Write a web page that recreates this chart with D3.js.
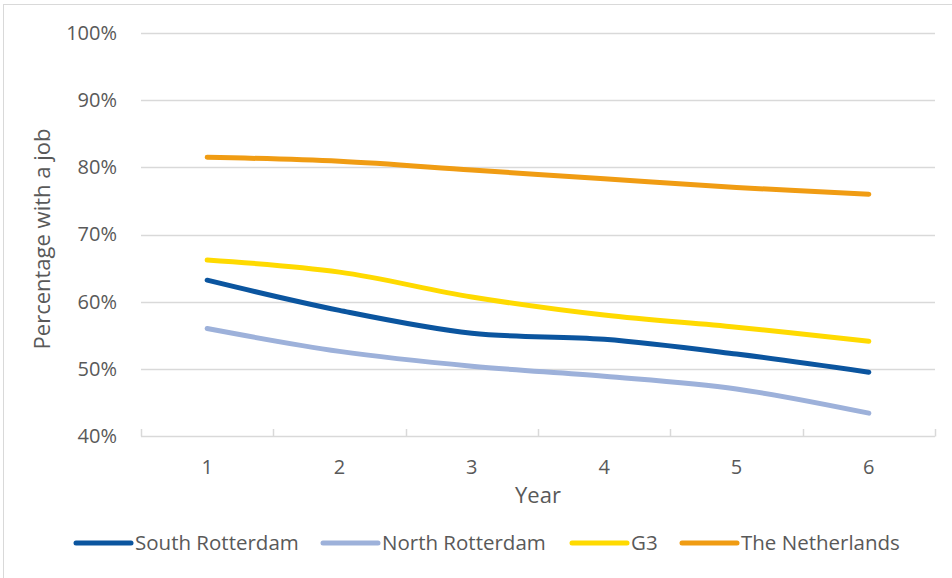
<!DOCTYPE html>
<html>
<head>
<meta charset="utf-8">
<script src="https://cdn.jsdelivr.net/npm/d3@7"></script>
<style>
  html, body { margin: 0; padding: 0; background: #fff; }
  svg { display: block; }
  text { font-family: "Open Sans", "Noto Sans", sans-serif; fill: #595959; }
</style>
</head>
<body>
<svg id="chart" width="952" height="578"></svg>
<script>
// Years since start
const years = [1, 2, 3, 4, 5, 6];

// Share of people with a job (%) per year
const southRotterdam = [63.2, 58.7, 55.3, 54.4, 52.2, 49.5];
const northRotterdam = [56.0, 52.6, 50.4, 48.9, 47.0, 43.4];
const g3 = [66.2, 64.4, 60.7, 58.0, 56.2, 54.1];
const netherlands = [81.5, 80.9, 79.6, 78.3, 77.0, 76.0];

const seriesNames = ["South Rotterdam", "North Rotterdam", "G3", "The Netherlands"];
const seriesColors = ["#0B559F", "#9DB1DA", "#FFDA00", "#F09C13"];
const yTicks = [40, 50, 60, 70, 80, 90, 100];

const series = [southRotterdam, northRotterdam, g3, netherlands].map((values, i) => ({
  name: seriesNames[i],
  color: seriesColors[i],
  values
}));

const svg = d3.select("#chart");
const W = 952, H = 578;
const plot = { left: 141, right: 935, top: 33, bottom: 436 };

// chart frame (only the top and left edges fall inside the canvas)
svg.append("rect")
  .attr("x", 3.5).attr("y", 4.5)
  .attr("width", W + 10).attr("height", H + 10)
  .attr("fill", "#fff").attr("stroke", "#D9D9D9").attr("stroke-width", 1);

const x = d3.scaleBand().domain(years).range([plot.left, plot.right]);
const y = d3.scaleLinear().domain([40, 100]).range([plot.bottom, plot.top]);

// horizontal gridlines
svg.append("g")
  .selectAll("line")
  .data(yTicks.filter(t => t > 40))
  .join("line")
  .attr("x1", plot.left).attr("x2", plot.right)
  .attr("y1", d => Math.round(y(d)) + 0.5).attr("y2", d => Math.round(y(d)) + 0.5)
  .attr("stroke", "#D9D9D9").attr("stroke-width", 1.5);

// y axis labels
const yAxis = d3.axisLeft(y).tickValues(yTicks).tickFormat(d => d + "%").tickSize(0).tickPadding(24);
const gy = svg.append("g").attr("transform", `translate(${plot.left},0)`).call(yAxis);
gy.select(".domain").remove();
gy.selectAll("text").style("font-size", "20px").style("font-family", null).attr("fill", "#595959");

// x axis: baseline with upward category separators
const xAxisG = svg.append("g");
xAxisG.append("line")
  .attr("x1", plot.left).attr("x2", plot.right)
  .attr("y1", plot.bottom + 0.5).attr("y2", plot.bottom + 0.5)
  .attr("stroke", "#D9D9D9").attr("stroke-width", 1.5);
const boundaries = years.map(d => x(d)).concat([x(years[years.length - 1]) + x.bandwidth()]);
xAxisG.selectAll("line.sep")
  .data(boundaries)
  .join("line")
  .attr("class", "sep")
  .attr("x1", d => Math.round(d) + 0.5).attr("x2", d => Math.round(d) + 0.5)
  .attr("y1", plot.bottom - 7).attr("y2", plot.bottom + 0.5)
  .attr("stroke", "#D9D9D9").attr("stroke-width", 1.5);
xAxisG.selectAll("text.xl")
  .data(years)
  .join("text")
  .attr("class", "xl")
  .attr("x", d => x(d) + x.bandwidth() / 2)
  .attr("y", 474)
  .attr("text-anchor", "middle")
  .style("font-size", "20px")
  .text(d => d);

// axis titles
svg.append("text")
  .attr("x", (plot.left + plot.right) / 2)
  .attr("y", 503)
  .attr("text-anchor", "middle")
  .style("font-size", "22px")
  .text("Year");

svg.append("text")
  .attr("transform", "translate(50,239) rotate(-90)")
  .attr("text-anchor", "middle")
  .style("font-size", "22px")
  .text("Percentage with a job");

// series lines
const line = d3.line()
  .x((d, i) => x(years[i]) + x.bandwidth() / 2)
  .y(d => y(d))
  .curve(d3.curveCatmullRom.alpha(0.5));

svg.append("g")
  .selectAll("path")
  .data(series.slice().reverse())
  .join("path")
  .attr("d", d => line(d.values))
  .attr("fill", "none")
  .attr("stroke", d => d.color)
  .attr("stroke-width", 5)
  .attr("stroke-linecap", "round")
  .attr("stroke-linejoin", "round");

// legend
const legendX = [76, 323, 572, 682];
const legend = svg.append("g")
  .selectAll("g")
  .data(series)
  .join("g")
  .attr("transform", (d, i) => `translate(${legendX[i]},543)`);
legend.append("line")
  .attr("x1", 0).attr("x2", 55)
  .attr("stroke", d => d.color)
  .attr("stroke-width", 5)
  .attr("stroke-linecap", "round");
legend.append("text")
  .attr("x", 59).attr("y", 0)
  .attr("dy", "0.35em")
  .style("font-size", "20.5px")
  .text(d => d.name);
</script>
</body>
</html>
